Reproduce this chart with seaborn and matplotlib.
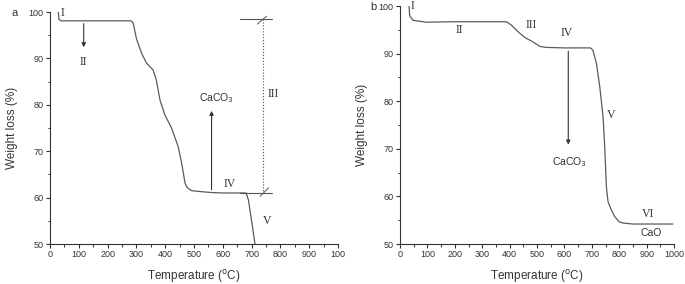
import matplotlib
matplotlib.use("Agg")
import matplotlib.pyplot as plt
import seaborn as sns
import pandas as pd
from matplotlib.ticker import MultipleLocator

# ---- data ----
temp_a = [29, 31, 40, 100, 200, 278, 284, 289, 300, 318, 335, 358, 369, 382, 399, 422, 445, 457,
          469, 475, 484, 492, 521, 561, 600, 681, 689, 712]
weight_a = [100, 98.4, 98.1, 98.1, 98.1, 98.1, 98.0, 97.6, 94.3, 91.1, 89.0, 87.5, 85.4, 81.0, 77.8,
            75.0, 71.0, 67.5, 63.1, 62.3, 61.8, 61.5, 61.3, 61.1, 61.0, 61.0, 59.5, 50.0]

temp_b = [33, 35, 47, 96, 200, 300, 388, 406, 431, 455, 484, 511, 535, 600, 695, 704, 717,
          729, 741, 747, 753, 759, 771, 783, 799, 814, 850, 996]
weight_b = [100, 98.0, 97.0, 96.6, 96.7, 96.7, 96.7, 96.0, 94.6, 93.4, 92.5, 91.5, 91.3, 91.2,
            91.2, 90.7, 87.9, 83.0, 76.7, 70.5, 62.1, 58.9, 57.2, 55.8, 54.7, 54.4, 54.2, 54.2]

xticks = [0, 100, 200, 300, 400, 500, 600, 700, 800, 900, 1000]
xticklabels_a = ["0", "100", "200", "300", "400", "500", "600", "700", "800", "900", "100"]
xticklabels_b = ["0", "100", "200", "300", "400", "500", "600", "700", "800", "900", "1000"]
yticks = [50, 60, 70, 80, 90, 100]

sns.set_style("ticks")
plt.rcParams["font.family"] = ["Liberation Sans", "DejaVu Sans"]
plt.rcParams["xtick.direction"] = "out"
plt.rcParams["ytick.direction"] = "out"

LC = "#5a5a5a"
fig = plt.figure(figsize=(6.85, 2.84), dpi=100)
ax_a = fig.add_axes([0.073, 0.1408, 0.4204, 0.8169])
ax_b = fig.add_axes([0.584, 0.1408, 0.400, 0.838])

df_a = pd.DataFrame({"T": temp_a, "W": weight_a})
df_b = pd.DataFrame({"T": temp_b, "W": weight_b})
sns.lineplot(data=df_a, x="T", y="W", ax=ax_a, sort=False, estimator=None, color=LC, lw=0.9)
sns.lineplot(data=df_b, x="T", y="W", ax=ax_b, sort=False, estimator=None, color=LC, lw=0.9)

serif = {"family": ["Liberation Serif", "DejaVu Serif"], "size": 8.5, "color": "#333333"}

for ax, labels in ((ax_a, xticklabels_a), (ax_b, xticklabels_b)):
    ax.set_xlim(0, 1000)
    ax.set_ylim(50, 100)
    ax.set_xticks(xticks)
    ax.set_xticklabels(labels)
    ax.set_yticks(yticks)
    ax.xaxis.set_minor_locator(MultipleLocator(50))
    ax.yaxis.set_minor_locator(MultipleLocator(5))
    ax.tick_params(which="major", length=3, width=0.8, labelsize=6.5, pad=1.5, colors="#333333")
    ax.tick_params(which="minor", length=1.8, width=0.7, colors="#333333")
    for s in ("top", "right"):
        ax.spines[s].set_visible(False)
    for s in ("left", "bottom"):
        ax.spines[s].set_linewidth(0.8)
        ax.spines[s].set_color("#333333")
    ax.set_xlabel("Temperature ($^{\\mathrm{o}}$C)", fontsize=8.5, color="#333333", labelpad=6)
    ax.set_ylabel("Weight loss (%)", fontsize=8.5, color="#333333", labelpad=8)

# ---- panel a annotations ----
arr = dict(arrowstyle="-|>", color="#333333", lw=0.8, mutation_scale=6)
ax_a.annotate("", xy=(117, 91.8), xytext=(117, 98.1), arrowprops=arr)
ax_a.text(42, 99.7, "I", fontdict=serif, ha="center", va="center")
ax_a.text(115, 89.3, "II", fontdict=serif, ha="center", va="center")
ax_a.annotate("", xy=(561, 79.3), xytext=(561, 61.1), arrowprops=arr)
ax_a.text(579, 81.4, "CaCO$_3$", fontsize=7.5, color="#333333", ha="center", va="center")
ax_a.text(625, 63.0, "IV", fontdict=serif, ha="center", va="center")
ax_a.text(753, 54.9, "V", fontdict=serif, ha="center", va="center")
ax_a.text(776, 82.3, "III", fontdict=serif, ha="center", va="center")
ax_a.plot([739, 739], [98.4, 61.0], ls=":", color="#555555", lw=0.8)
ax_a.plot([660, 770], [98.4, 98.4], color="#555555", lw=0.8)
ax_a.plot([660, 770], [61.0, 61.0], color="#555555", lw=0.8)
ax_a.plot([720, 752], [97.4, 99.1], color="#555555", lw=0.7)
ax_a.plot([730, 759], [60.3, 62.1], color="#555555", lw=0.7)

# ---- panel b annotations ----
ax_b.annotate("", xy=(614, 70.3), xytext=(614, 91.1), arrowprops=arr)
ax_b.text(619, 67.3, "CaCO$_3$", fontsize=7.5, color="#333333", ha="center", va="center")
ax_b.text(47, 99.9, "I", fontdict=serif, ha="center", va="center")
ax_b.text(218, 94.9, "II", fontdict=serif, ha="center", va="center")
ax_b.text(479, 96.0, "III", fontdict=serif, ha="center", va="center")
ax_b.text(607, 94.4, "IV", fontdict=serif, ha="center", va="center")
ax_b.text(771, 77.1, "V", fontdict=serif, ha="center", va="center")
ax_b.text(905, 56.3, "VI", fontdict=serif, ha="center", va="center")
ax_b.text(917, 52.4, "CaO", fontsize=7.5, color="#333333", ha="center", va="center")

fig.text(15 / 685, 1 - 13 / 284, "a", fontsize=8, color="#333333", ha="center", va="center")
fig.text(373 / 685, 1 - 7 / 284, "b", fontsize=8, color="#333333", ha="center", va="center")

fig.savefig("out.png", dpi=100)
